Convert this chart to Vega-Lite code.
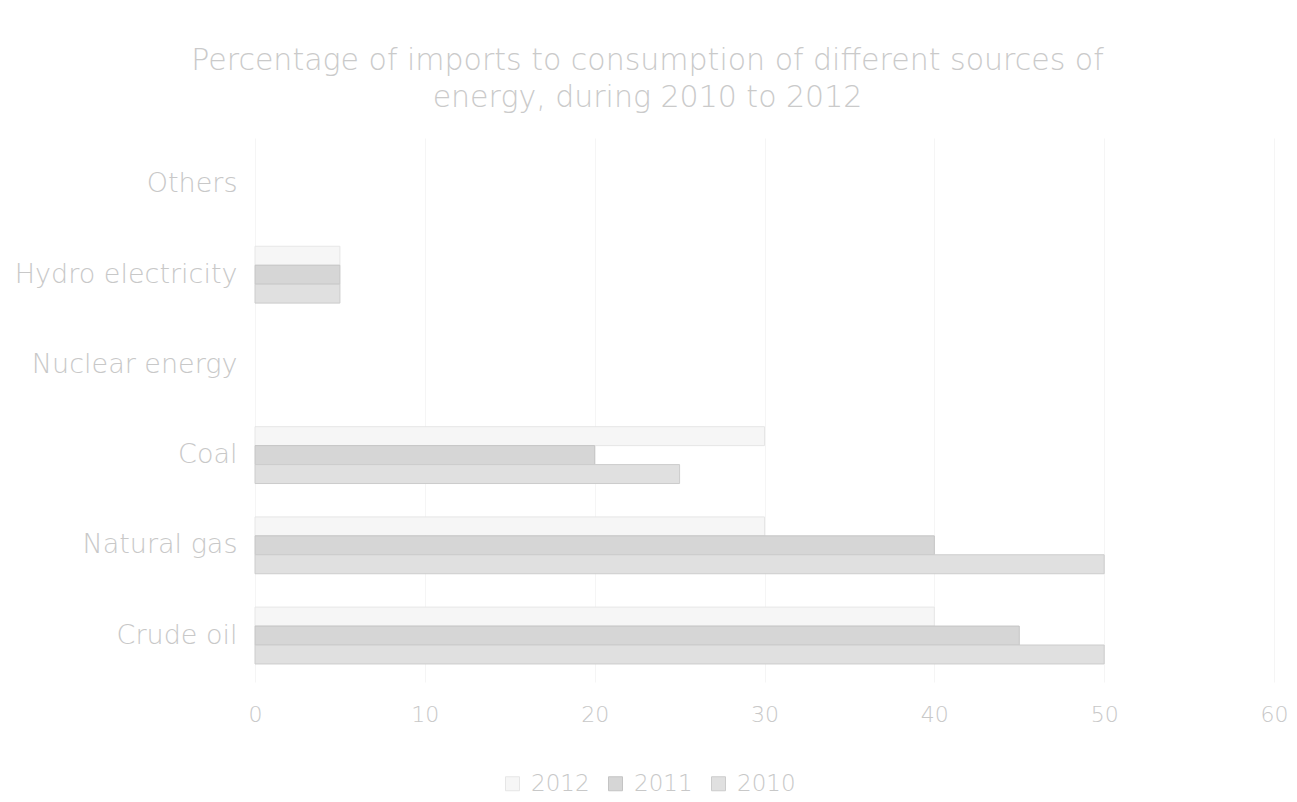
{
  "$schema": "https://vega.github.io/schema/vega-lite/v6.json",
  "autosize": {"type": "none"},
  "padding": {"left": 255, "top": 138, "right": 23, "bottom": 120},
  "width": 1019,
  "height": 544,
  "background": "white",
  "title": {
    "text": ["Percentage of imports to consumption of different sources of", "energy, during 2010 to 2012"],
    "anchor": "middle",
    "frame": "group",
    "dx": -117,
    "offset": 25,
    "font": "DejaVu Sans",
    "fontSize": 30,
    "fontWeight": 200,
    "color": "#cacaca",
    "lineHeight": 37
  },
  "data": {
    "values": [
      {"source": "Others", "year": "2012", "value": 0},
      {"source": "Others", "year": "2011", "value": 0},
      {"source": "Others", "year": "2010", "value": 0},
      {"source": "Hydro electricity", "year": "2012", "value": 5},
      {"source": "Hydro electricity", "year": "2011", "value": 5},
      {"source": "Hydro electricity", "year": "2010", "value": 5},
      {"source": "Nuclear energy", "year": "2012", "value": 0},
      {"source": "Nuclear energy", "year": "2011", "value": 0},
      {"source": "Nuclear energy", "year": "2010", "value": 0},
      {"source": "Coal", "year": "2012", "value": 30},
      {"source": "Coal", "year": "2011", "value": 20},
      {"source": "Coal", "year": "2010", "value": 25},
      {"source": "Natural gas", "year": "2012", "value": 30},
      {"source": "Natural gas", "year": "2011", "value": 40},
      {"source": "Natural gas", "year": "2010", "value": 50},
      {"source": "Crude oil", "year": "2012", "value": 40},
      {"source": "Crude oil", "year": "2011", "value": 45},
      {"source": "Crude oil", "year": "2010", "value": 50}
    ]
  },
  "mark": {"type": "bar", "strokeWidth": 1},
  "encoding": {
    "y": {
      "field": "source",
      "type": "nominal",
      "sort": ["Others", "Hydro electricity", "Nuclear energy", "Coal", "Natural gas", "Crude oil"],
      "scale": {"paddingInner": 0.37, "paddingOuter": 0.2},
      "axis": {
        "title": null,
        "labelFont": "DejaVu Sans",
        "labelFontSize": 27,
        "labelFontWeight": 200,
        "labelColor": "#c8c8c8",
        "labelPadding": 18,
        "ticks": false,
        "domain": false,
        "labelLimit": 300
      }
    },
    "yOffset": {
      "field": "year",
      "type": "nominal",
      "sort": ["2012", "2011", "2010"]
    },
    "x": {
      "field": "value",
      "type": "quantitative",
      "scale": {"domain": [0, 60], "nice": false},
      "axis": {
        "title": null,
        "values": [0, 10, 20, 30, 40, 50, 60],
        "labelFlush": false,
        "labelFont": "DejaVu Sans",
        "labelFontSize": 22,
        "labelFontWeight": 200,
        "labelColor": "#c8c8c8",
        "labelPadding": 22,
        "ticks": false,
        "domain": false,
        "grid": true,
        "gridColor": "#f5f5f5"
      }
    },
    "color": {
      "field": "year",
      "type": "nominal",
      "scale": {"domain": ["2012", "2011", "2010"], "range": ["#f6f6f6", "#d6d6d6", "#e0e0e0"]},
      "legend": {
        "title": null,
        "orient": "none",
        "direction": "horizontal",
        "legendX": 246,
        "legendY": 634,
        "symbolType": "square",
        "symbolSize": 196,
        "symbolStrokeColor": "#bdbdbd",
        "symbolStrokeWidth": 1,
        "labelFont": "DejaVu Sans",
        "labelFontSize": 23,
        "labelFontWeight": 200,
        "labelColor": "#c8c8c8",
        "columnPadding": 14,
        "labelOffset": 7
      }
    },
    "stroke": {
      "field": "year",
      "type": "nominal",
      "scale": {"domain": ["2012", "2011", "2010"], "range": ["#e6e6e6", "#c4c4c4", "#cccccc"]},
      "legend": null
    },
    "strokeOpacity": {
      "condition": {"test": "datum.value == 0", "value": 0},
      "value": 1
    }
  },
  "config": {"view": {"stroke": null}}
}
